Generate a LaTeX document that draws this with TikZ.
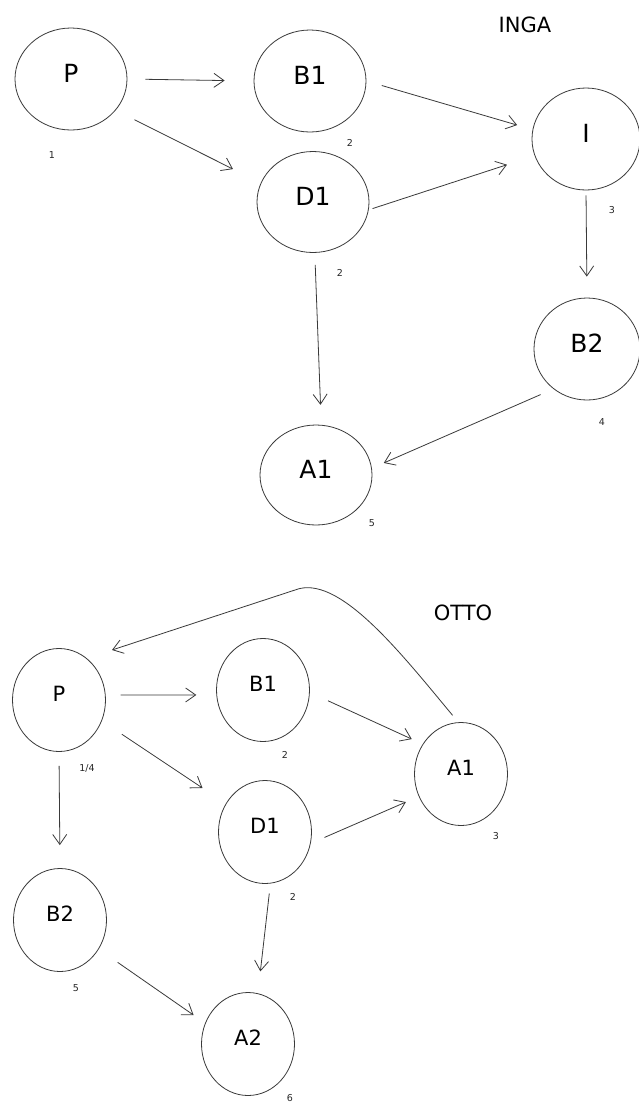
\documentclass[tikz,border=0pt]{standalone}
\usepackage{fontspec}
\setmainfont{DejaVu Sans}
\usetikzlibrary{arrows.meta,shapes.geometric}
\definecolor{ink}{HTML}{3A3A3A}
\begin{document}
\begin{tikzpicture}[x=1pt,y=-1pt,
  big/.style={ellipse, draw=ink, line width=0.8pt, inner sep=0pt, text depth=12pt,
    minimum width=112pt, minimum height=102pt, font=\fontsize{25}{25}\selectfont},
  small/.style={ellipse, draw=ink, line width=0.8pt, inner sep=0pt, text depth=12pt,
    minimum width=93pt, minimum height=103pt, font=\fontsize{21}{21}\selectfont},
  num/.style={font=\fontsize{9.5}{9.5}\selectfont, text=black!85, inner sep=0pt},
  title/.style={font=\fontsize{21}{21}\selectfont, inner sep=0pt},
  arr/.style={draw=ink, line width=0.8pt, -{Straight Barb[length=10pt,width=14pt]}}]
\useasboundingbox (0,0) rectangle (639,1104);
\fill[white] (0,0) rectangle (639,1104);

% ---------- INGA ----------
\node[title] (inga) at (525,25) {INGA};
\node[big] (P1) at (71,79) {P};
\node[big] (B1) at (310,81) {B1};
\node[big, minimum height=101pt] (D1) at (313,202) {D1};
\node[big, minimum width=108pt] (I) at (586,139) {I};
\node[big, minimum width=106pt] (B2) at (587,349) {B2};
\node[big, minimum height=100pt] (A1) at (316,475) {A1};

\node[num] (n1) at (52,155) {1};
\node[num] (n2) at (350,143) {2};
\node[num] (n3) at (340,273) {2};
\node[num] (n4) at (612,210) {3};
\node[num] (n5) at (602,422) {4};
\node[num] (n6) at (372,523) {5};

\draw[arr, shorten <=18pt, shorten >=29pt] (P1.east) -- (B1.west);
\draw[arr, shorten <=21pt, shorten >=31pt] (P1.-35) -- (D1.160);
\draw[arr, shorten <=16pt, shorten >=16pt] (B1.east) -- (I.170);
\draw[arr, shorten <=4pt, shorten >=29pt] (D1.-8) -- (I.-162);
\draw[arr, shorten <=5pt, shorten >=21pt] (I.south) -- (B2.north);
\draw[arr, shorten <=12pt, shorten >=20pt] (D1.-88) -- (A1.84);
\draw[arr, shorten <=14pt, shorten >=13pt] (B2.-130) -- (A1.7);

% ---------- OTTO ----------
\node[title] (otto) at (463,613) {OTTO};
\node[small] (P2) at (59,700) {P};
\node[small] (B1b) at (263,690) {B1};
\node[small] (A1b) at (461,774) {A1};
\node[small] (D1b) at (265,832) {D1};
\node[small] (B2b) at (60,920) {B2};
\node[small] (A2) at (248,1044) {A2};

\node[num] (m1) at (285,755) {2};
\node[num] (m2) at (87,768) {1/4};
\node[num] (m3) at (496,836) {3};
\node[num] (m4) at (293,897) {2};
\node[num] (m5) at (76,988) {5};
\node[num] (m6) at (290,1098) {6};

\draw[arr, shorten <=15pt, shorten >=20pt] (P2.6) -- (B1b.186);
\draw[arr, shorten <=24pt, shorten >=28pt] (P2.-26) -- (D1b.144);
\draw[arr, shorten <=20pt, shorten >=12pt] (B1b.-3) -- (A1b.142);
\draw[arr, shorten <=15pt, shorten >=14pt] (D1b.-14) -- (A1b.-152);
\draw[arr, shorten <=14pt, shorten >=23pt] (P2.south) -- (B2b.north);
\draw[arr, shorten <=23pt, shorten >=14pt] (B2b.-37) -- (A2.154);
\draw[arr, shorten <=10pt, shorten >=22pt] (D1b.-84) -- (A2.79);

\coordinate (pk) at (295,590);
\coordinate (Ptip) at (112,650);
\draw[arr, shorten <=9pt] (A1b.93) .. controls (400,652) and (338,573) .. (pk) -- (Ptip);
\end{tikzpicture}
\end{document}
